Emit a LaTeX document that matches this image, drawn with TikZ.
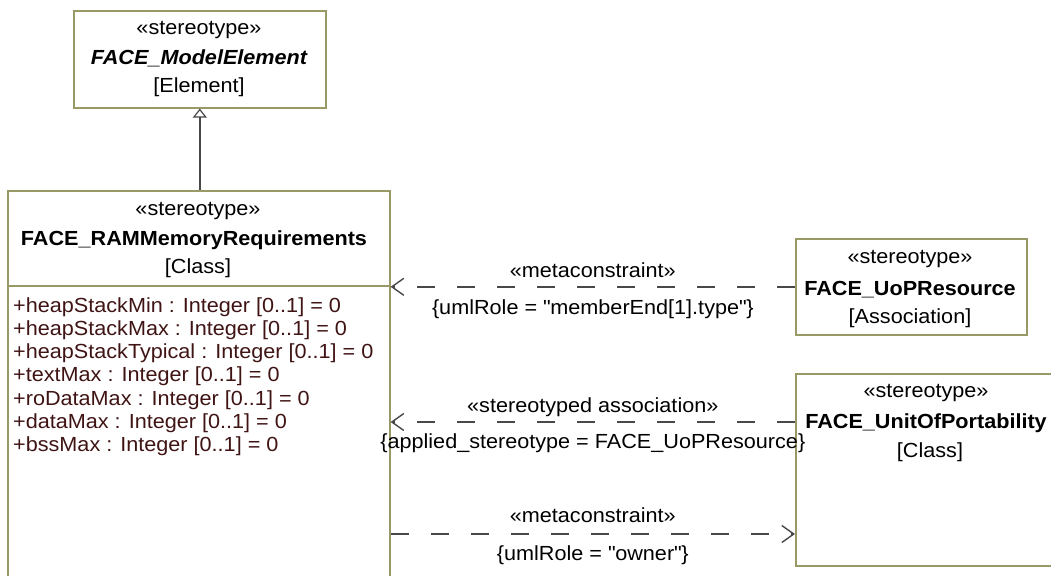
\documentclass[tikz,border=0pt]{standalone}
\usepackage{fontspec}
\setmainfont{Liberation Sans}[FakeStretch=1.06]
\usetikzlibrary{arrows.meta}
\definecolor{umlolive}{RGB}{153,153,102}
\definecolor{umlline}{RGB}{72,72,72}
\definecolor{attrbrown}{RGB}{64,20,20}

\begin{document}
\begin{tikzpicture}[x=1pt, y=-1pt]
  \tikzset{
    uml_box/.style={draw=umlolive, line width=1.6pt, fill=white, anchor=north west, inner sep=0pt},
    uml_sep/.style={draw=umlolive, line width=1.6pt},
    uml_text/.style={anchor=base, inner sep=0pt, font=\fontsize{20.4}{24}\selectfont},
    attr_text/.style={uml_text, anchor=base west, text=attrbrown},
    link_text/.style={uml_text, midway},
    meta_link/.style={draw=umlline, line width=1.4pt, dash pattern=on 18pt off 22pt,
      -{Straight Barb[length=12pt, width=17pt, line width=1.4pt]}},
    gen_link/.style={draw=umlline, line width=1.4pt,
      -{Triangle[open, length=9pt, width=14pt, fill=white, line width=1.2pt]}}
  }

  % Marco de la figura
  \useasboundingbox (0,0) rectangle (1051,575);
  \clip (0,0) rectangle (1051,575);

  % Cajas de los estereotipos
  \node[uml_box, minimum width=252pt, minimum height=97pt] (modelElem) at (73,10) {};
  \node[uml_box, minimum width=382pt, minimum height=420pt] (ram) at (7,190) {};
  \node[uml_box, minimum width=231pt, minimum height=96pt] (uop) at (795,238) {};
  \node[uml_box, minimum width=265pt, minimum height=192pt] (unit) at (795,373) {};

  % Separador de atributos
  \coordinate (ramSplit) at (0,286);
  \draw[uml_sep] (ram.west |- ramSplit) -- (ram.east |- ramSplit);

  % Textos de FACE_ModelElement
  \node[uml_text] (modelStereo) at (199,35) {«stereotype»};
  \node[uml_text, font=\fontsize{20.4}{24}\selectfont\bfseries\itshape] (modelName) at (199,65) {FACE\_ModelElement};
  \node[uml_text] (modelMeta) at (199,93) {[Element]};

  % Textos de FACE_RAMMemoryRequirements
  \node[uml_text] (ramStereo) at (198,215) {«stereotype»};
  \node[uml_text, font=\fontsize{20.4}{24}\selectfont\bfseries] (ramName) at (194,245) {FACE\_RAMMemoryRequirements};
  \node[uml_text] (ramMeta) at (198,273) {[Class]};

  % Atributos
  \node[attr_text] (attrA) at (13,312) {+heapStackMin : Integer [0..1] = 0};
  \node[attr_text] (attrB) at (13,335.3) {+heapStackMax : Integer [0..1] = 0};
  \node[attr_text] (attrC) at (13,358.6) {+heapStackTypical : Integer [0..1] = 0};
  \node[attr_text] (attrD) at (13,381.9) {+textMax : Integer [0..1] = 0};
  \node[attr_text] (attrE) at (13,405.2) {+roDataMax : Integer [0..1] = 0};
  \node[attr_text] (attrF) at (13,428.5) {+dataMax : Integer [0..1] = 0};
  \node[attr_text] (attrG) at (13,451.8) {+bssMax : Integer [0..1] = 0};

  % Textos de FACE_UoPResource
  \node[uml_text] (uopStereo) at (910,263) {«stereotype»};
  \node[uml_text, font=\fontsize{20.4}{24}\selectfont\bfseries] (uopName) at (910,295) {FACE\_UoPResource};
  \node[uml_text] (uopMeta) at (910,323) {[Association]};

  % Textos de FACE_UnitOfPortability
  \node[uml_text] (unitStereo) at (926,397) {«stereotype»};
  \node[uml_text, font=\fontsize{20.4}{24}\selectfont\bfseries] (unitName) at (926,428) {FACE\_UnitOfPortability};
  \node[uml_text] (unitMeta) at (930,457) {[Class]};

  % Generalizacion
  \draw[gen_link] (modelElem.south |- ram.north) -- (modelElem.south);

  % Conexiones con estereotipo
  \coordinate (assocY) at (0,422);
  \coordinate (ownerY) at (0,534);
  \draw[meta_link] (uop.west) -- (ram.east |- uop.west)
    node[link_text, yshift=9pt] {«metaconstraint»}
    node[link_text, yshift=-28pt] {\{umlRole = \textquotedbl memberEnd[1].type\textquotedbl\}};
  \draw[meta_link] (unit.west |- assocY) -- (ram.east |- assocY)
    node[link_text, yshift=10pt] {«stereotyped association»}
    node[link_text, yshift=-26pt] {\{applied\_stereotype = FACE\_UoPResource\}};
  \draw[meta_link] (ram.east |- ownerY) -- (unit.west |- ownerY)
    node[link_text, yshift=12pt] {«metaconstraint»}
    node[link_text, yshift=-26pt] {\{umlRole = \textquotedbl owner\textquotedbl\}};
\end{tikzpicture}
\end{document}
